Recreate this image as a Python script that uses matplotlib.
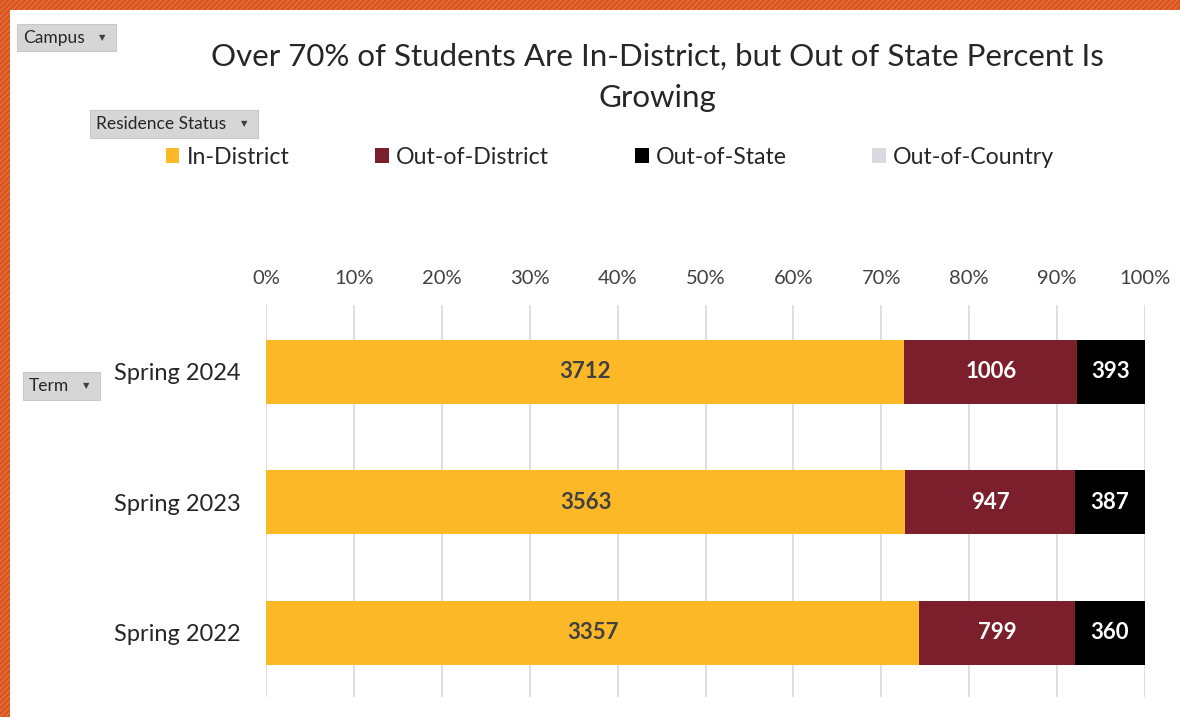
import matplotlib
matplotlib.use('Agg')
import matplotlib.pyplot as plt
import numpy as np
from matplotlib.patches import Rectangle, Patch
from matplotlib.ticker import PercentFormatter

plt.rcParams['font.family'] = ['Lato', 'DejaVu Sans']

terms = ['Spring 2022', 'Spring 2023', 'Spring 2024']
in_district = [3357, 3563, 3712]
out_district = [799, 947, 1006]
out_state = [360, 387, 393]
out_country = [1, 1, 1]

series_names = ['In-District', 'Out-of-District', 'Out-of-State', 'Out-of-Country']
colors = ['#FDB827', '#7A1F2B', '#000000', '#D9D9E0']
label_colors = ['#404040', 'white', 'white', None]

W, H = 1180, 717
fig = plt.figure(figsize=(W / 100, H / 100), dpi=100)
fig.patch.set_facecolor('#D9541E')

# striped orange frame, white slide area
frame = Rectangle((0, 0), 1, 1, transform=fig.transFigure, facecolor='#D9541E',
                  edgecolor='#E4703A', hatch='//////', linewidth=0, zorder=-3)
fig.patches.append(frame)
panel = Rectangle((10 / W, 0), 1 - 10 / W, 1 - 10 / H, transform=fig.transFigure,
                  facecolor='white', edgecolor='none', zorder=-2)
fig.patches.append(panel)

ax = fig.add_axes([266 / W, 20 / H, 879 / W, 392 / H])
ax.set_facecolor('none')

data = np.array([in_district, out_district, out_state, out_country], dtype=float)
totals = data.sum(axis=0)
shares = data / totals

y = np.arange(len(terms))
left = np.zeros(len(terms))
for i, name in enumerate(series_names):
    ax.barh(y, shares[i], left=left, height=0.49, color=colors[i], label=name, zorder=2)
    if label_colors[i] is not None:
        for j in range(len(terms)):
            ax.text(left[j] + shares[i][j] / 2, y[j], str(int(data[i][j])),
                    ha='center', va='center', fontsize=16, fontweight='bold',
                    color=label_colors[i], zorder=3)
    left += shares[i]

ax.set_xlim(0, 1)
ax.set_ylim(-0.49, 2.51)
ax.set_xticks(np.arange(0, 1.01, 0.1))
ax.xaxis.set_major_formatter(PercentFormatter(1.0, decimals=0))
ax.xaxis.tick_top()
ax.set_yticks(y)
ax.set_yticklabels(terms)
ax.tick_params(axis='x', length=0, labelsize=14.5, colors='#404040', pad=13)
ax.tick_params(axis='y', length=0, labelsize=17, colors='#262626', pad=18)
ax.xaxis.grid(True, color='#D9D9D9', linewidth=1.2, zorder=0)
ax.set_axisbelow(True)
for s in ax.spines.values():
    s.set_visible(False)

fig.text(657 / W, 1 - 57 / H, 'Over 70% of Students Are In-District, but Out of State Percent Is',
         ha='center', va='center', fontsize=22.5, color='#262626')
fig.text(657 / W, 1 - 98 / H, 'Growing', ha='center', va='center', fontsize=22.5, color='#262626')

handles = [Patch(facecolor=c, edgecolor='none') for c in colors]
fig.legend(handles, series_names, loc='center', bbox_to_anchor=(610 / W, 1 - 157 / H),
           ncol=4, frameon=False, fontsize=16.7, handlelength=0.6, handleheight=0.6,
           handletextpad=0.3, columnspacing=3.7, labelcolor='#262626')


def filter_button(x0, y0, x1, y1, text):
    fig.patches.append(Rectangle((x0 / W, 1 - y1 / H), (x1 - x0) / W, (y1 - y0) / H,
                                 transform=fig.transFigure, facecolor='#D6D6D6',
                                 edgecolor='#C8C8C8', linewidth=0.8, zorder=5))
    fig.text((x0 + 6) / W, 1 - (y0 + y1) / 2 / H, text, ha='left', va='center',
             fontsize=12.5, color='#262626', zorder=6)
    fig.text((x1 - 14) / W, 1 - (y0 + y1) / 2 / H, '\u25BC', ha='center', va='center',
             fontsize=6, color='#404040', family='DejaVu Sans', zorder=6)


filter_button(17, 24, 116, 51, 'Campus')
filter_button(90, 110, 258, 138, 'Residence Status')
filter_button(23, 372, 100, 400, 'Term')

fig.savefig('out.png', dpi=100, facecolor=fig.get_facecolor())
